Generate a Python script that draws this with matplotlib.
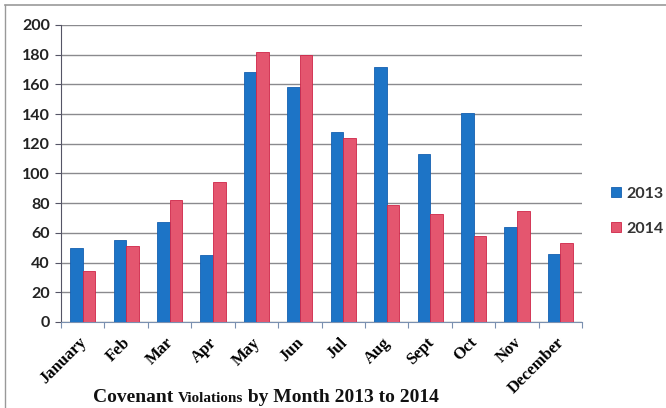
import matplotlib
matplotlib.use("Agg")
import matplotlib.pyplot as plt
import matplotlib.transforms as mtransforms
import numpy as np
from matplotlib.offsetbox import TextArea, HPacker, AnchoredOffsetbox

# data
months = ["January", "Feb", "Mar", "Apr", "May", "Jun", "Jul", "Aug",
          "Sept", "Oct", "Nov", "December"]
v2013 = [50, 55, 67, 45, 168, 158, 128, 172, 113, 141, 64, 46]
v2014 = [34, 51, 82, 94, 182, 180, 124, 79, 73, 58, 75, 53]
yticks = list(range(0, 201, 20))

blue = "#1d74c6"
red = "#e4566f"

fig = plt.figure(figsize=(6.66, 4.08), dpi=100)
ax = fig.add_axes([0.0916, 0.2108, 0.7824, 0.728])

x = np.arange(len(months))
w = 0.29
b1 = ax.bar(x - w / 2, v2013, w, color=blue, edgecolor="#1560b0", linewidth=0.6,
            label="2013", zorder=3)
b2 = ax.bar(x + w / 2, v2014, w, color=red, edgecolor="#cf2548", linewidth=0.6,
            label="2014", zorder=3)

ax.set_xlim(-0.5, len(months) - 0.5)
ax.set_ylim(0, 200)
ax.set_yticks(yticks)
ax.yaxis.grid(True, color="#8a8a8e", linewidth=1.0, zorder=0)
ax.set_axisbelow(True)

for s in ["top", "right"]:
    ax.spines[s].set_visible(False)
ax.spines["left"].set_color("#555566")
ax.spines["bottom"].set_color("#7a90b0")

# tick marks on the category boundaries, labels at the centres
ax.set_xticks(np.arange(len(months) + 1) - 0.5)
ax.set_xticklabels([])
ax.set_xticks(x, minor=True)
ax.set_xticklabels(months, minor=True, rotation=45, ha="right", va="top",
                   rotation_mode="anchor", fontfamily="Liberation Serif",
                   fontweight="bold", fontsize=12)
ax.tick_params(axis="x", which="major", length=4, color="#7a90b0")
ax.tick_params(axis="x", which="minor", length=0, pad=9)
shift = mtransforms.ScaledTranslation(-4 / 100, 0, fig.dpi_scale_trans)
for lab in ax.xaxis.get_minorticklabels():
    lab.set_transform(lab.get_transform() + shift)

ax.tick_params(axis="y", length=4, color="#555566", pad=4)
for lab in ax.get_yticklabels():
    lab.set_fontfamily("Lato")
    lab.set_fontweight("bold")
    lab.set_fontsize(11.5)
    lab.set_color("#222222")

leg = fig.legend(handles=[b1, b2], loc="center left",
                 bbox_to_anchor=(0.896, 0.482), frameon=False,
                 handlelength=0.6, handleheight=0.6, handletextpad=0.35,
                 labelspacing=1.3, prop={"family": "Lato", "weight": "bold", "size": 11.5})
for t in leg.get_texts():
    t.set_color("#333333")

# caption with a smaller middle word
big = {"family": "Liberation Serif", "weight": "bold", "size": 14, "color": "#111111"}
small = {"family": "Liberation Serif", "weight": "bold", "size": 11, "color": "#111111"}
parts = [TextArea("Covenant ", textprops=big),
         TextArea("Violations", textprops=small),
         TextArea(" by Month 2013 to 2014", textprops=big)]
pack = HPacker(children=parts, align="baseline", pad=0, sep=0)
box = AnchoredOffsetbox(loc="center", child=pack, frameon=False,
                        bbox_to_anchor=(266 / 666, 1 - 398 / 408),
                        bbox_transform=fig.transFigure, borderpad=0, pad=0)
fig.add_artist(box)

# outer chart border (top and left only are visible)
fig.add_artist(plt.Line2D([5 / 666, 5 / 666], [0, 1 - 5 / 408],
                          transform=fig.transFigure, color="#999999", lw=1))
fig.add_artist(plt.Line2D([5 / 666, 1], [1 - 5 / 408, 1 - 5 / 408],
                          transform=fig.transFigure, color="#999999", lw=1.2))

fig.savefig("out.png", dpi=100)
